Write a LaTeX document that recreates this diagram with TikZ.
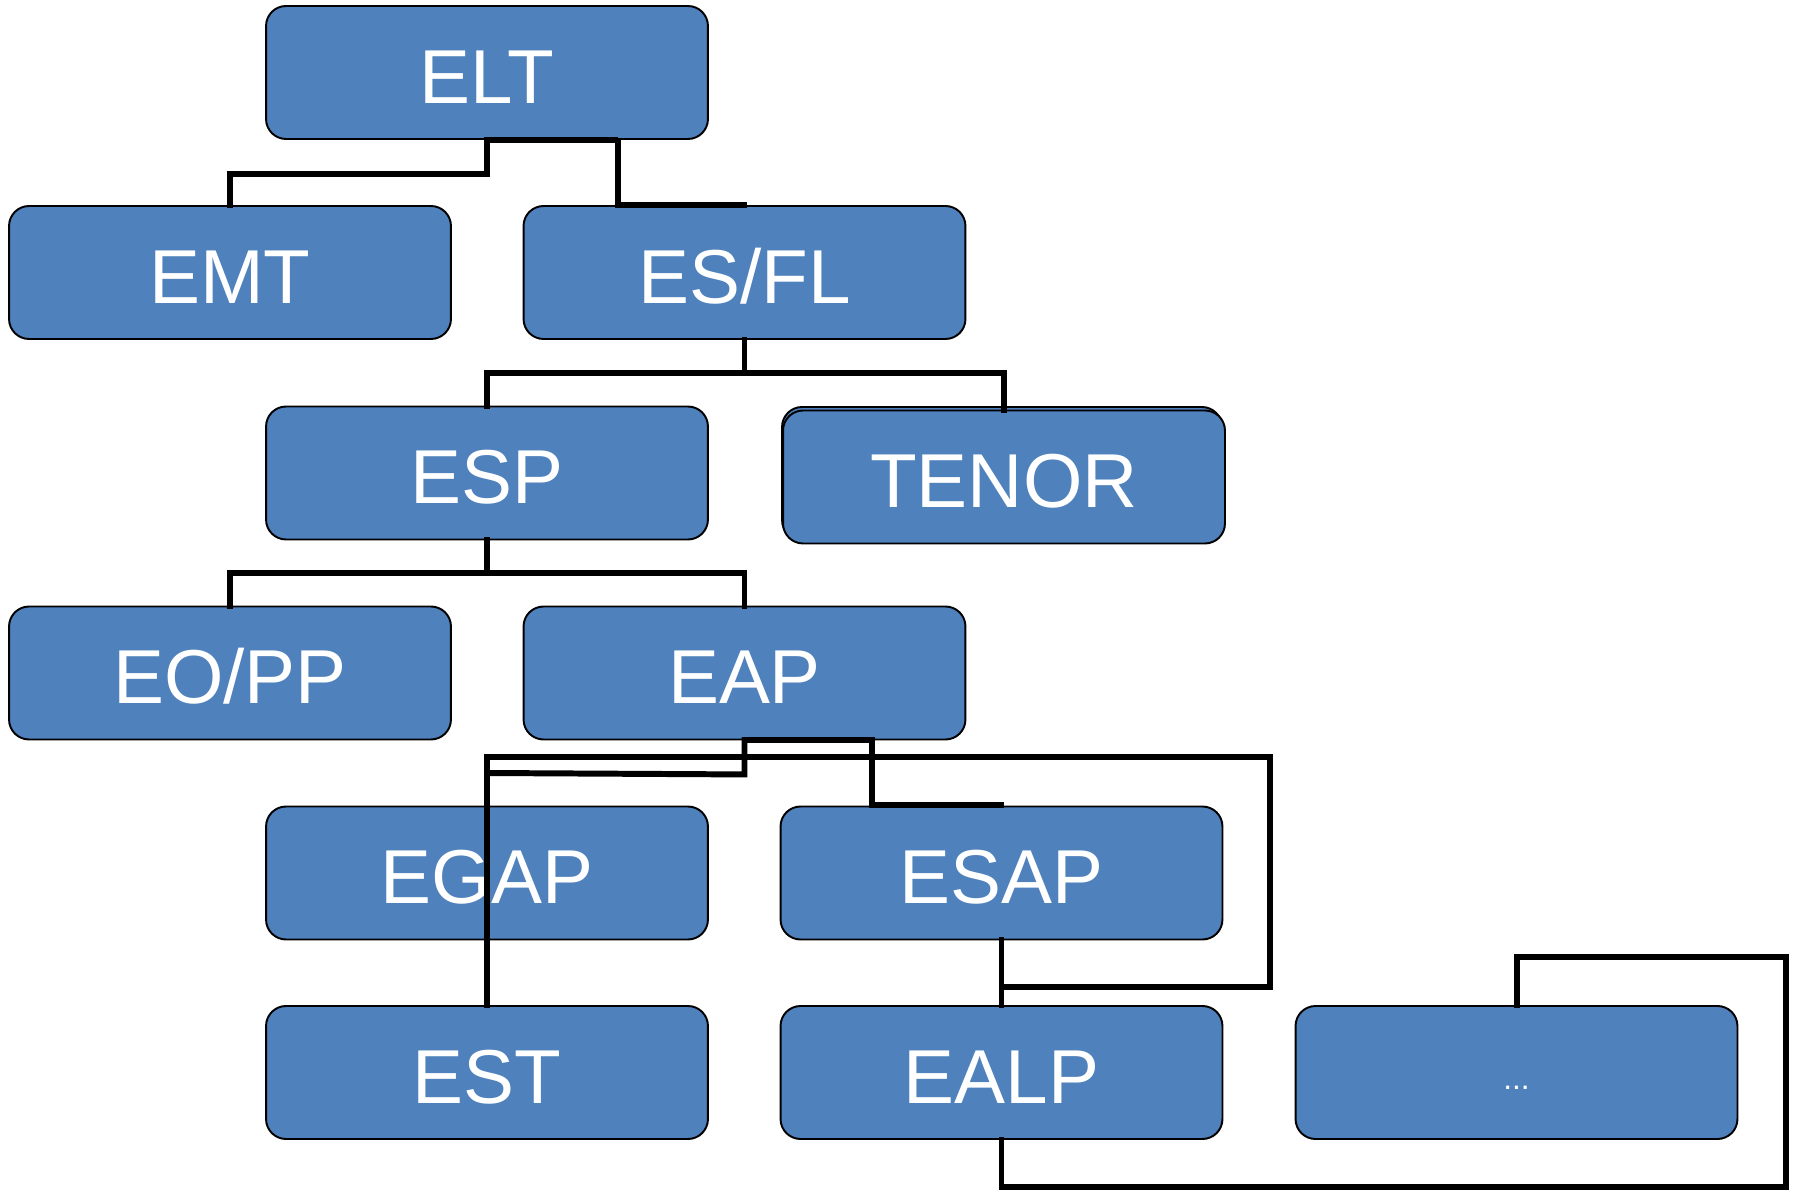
\documentclass[tikz,border=0pt]{standalone}
\usepackage{fontspec}
\setmainfont{Liberation Sans}
\definecolor{boxblue}{HTML}{4F81BD}
\begin{document}
\begin{tikzpicture}[x=0.02cm,y=-0.02cm,
  box/.style={draw=black, line width=1.1pt, fill=boxblue, rounded corners=0.4cm,
    minimum width=8.84cm, minimum height=2.66cm, inner sep=0pt,
    text=white, font=\fontsize{43.5}{50}\selectfont, text height=35pt, text depth=0pt},
  conn/.style={draw=black, line width=3.4pt, line cap=rect}]
\useasboundingbox (0,0) rectangle (1793,1192);
% TENOR back outline
\node[box, minimum width=8.8cm, minimum height=2.66cm] (tenorback) at (1002,473.5) {};
\node[box] (elt) at (487,72.5) {ELT};
\node[box] (emt) at (230,272.5) {EMT};
\node[box] (esfl) at (744.5,272.5) {ES/FL};
\node[box] (esp) at (487,473) {ESP};
\node[box, yshift=-0.05cm] (tenor) at (1004,474.5) {TENOR};
\node[box] (eopp) at (230,673) {EO/PP};
\node[box] (eap) at (744.5,673) {EAP};
\node[box] (egap) at (487,873) {EGAP};
\node[box] (esap) at (1001.5,873) {ESAP};
\node[box] (est) at (487,1072.5) {EST};
\node[box] (ealp) at (1001.5,1072.5) {EALP};
\node[box] (more) at (1516.5,1072.5) {};
\node[text=white, font=\fontsize{18}{20}\selectfont, anchor=base] (moretext) at (1516.5,1089) {...};
% connectors
\coordinate (a1) at (618,139.5);
\draw[conn] (elt.south) -- ++(0,34) -| (emt.north);
\draw[conn] (elt.south) -| (a1) |- (esfl.north);
\draw[conn] (esfl.south) -- ++(0,33) -| (esp.north);
\draw[conn] (esfl.south) -- ++(0,33) -| (tenor.north);
\draw[conn] (esp.south) -- ++(0,33) -| (eopp.north);
\draw[conn] (esp.south) -- ++(0,33) -| (eap.north);
% EAP tangle
\coordinate (b1) at (487,773);
\coordinate (bx) at (872,805);
\coordinate (c1) at (487,757);
\coordinate (c2) at (1270,757);
\coordinate (c3) at (1270,987);
\coordinate (c4) at (1001.5,987);
\draw[conn] (eap.south) -- ++(0,34) -- (b1);
\draw[conn] (eap.south) -| (bx) -- (bx -| esap.north);
\draw[conn] (est.north) -- (c1) -- (c2) -- (c3) -- (c4);
\draw[conn] (esap.south) -- (ealp.north);
% EALP to more
\coordinate (d1) at (1786,1187);
\coordinate (d2) at (1786,957);
\draw[conn] (ealp.south) |- (d1) -- (d2) -| (more.north);
\end{tikzpicture}
\end{document}
